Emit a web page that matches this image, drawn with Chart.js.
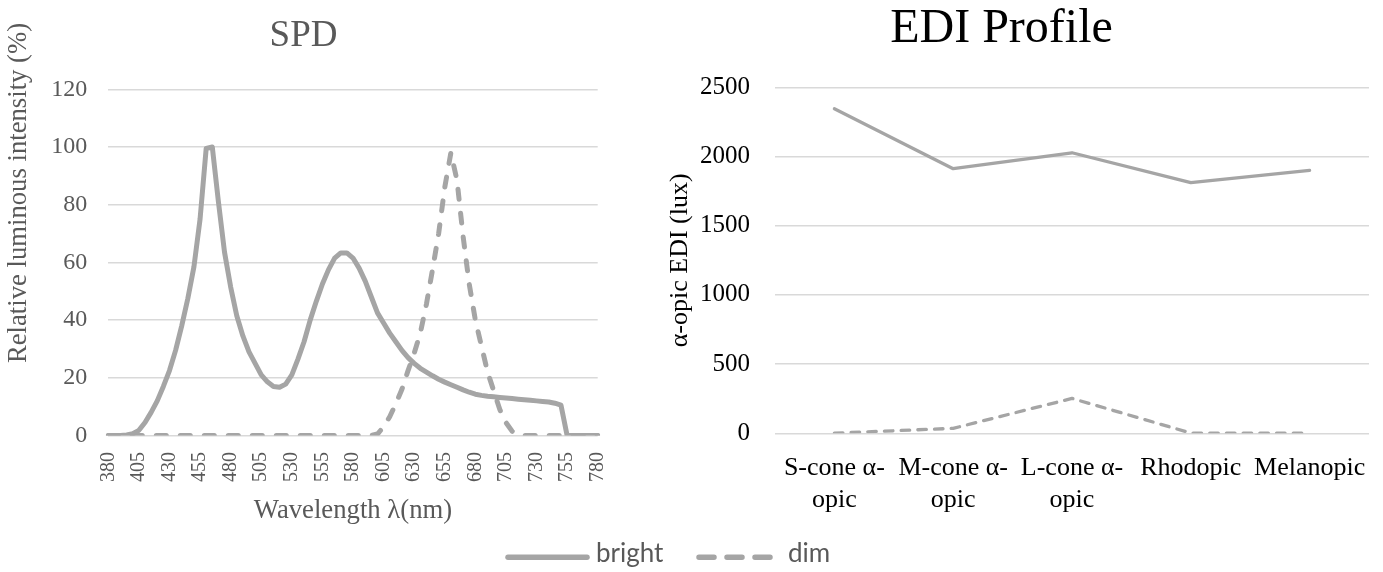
<!DOCTYPE html>
<html>
<head>
<meta charset="utf-8">
<script src="https://cdn.jsdelivr.net/npm/chart.js@4.4.0/dist/chart.umd.min.js"></script>
<style>
  html, body { margin: 0; padding: 0; background: #fff; width: 1383px; height: 572px; overflow: hidden; }
  #spd { position: absolute; left: 0; top: 0; }
  #edi { position: absolute; left: 630px; top: 0; }
  #legend { position: absolute; left: 0; top: 525px; }
</style>
</head>
<body>
<canvas id="spd" width="620" height="540" style="width:620px;height:540px"></canvas>
<canvas id="edi" width="753" height="540" style="width:753px;height:540px"></canvas>
<svg id="legend" width="1383" height="47" xmlns="http://www.w3.org/2000/svg"></svg>

<script>
// ---- Spectral power distribution (5 nm steps) ----
const wavelengths = [
  380, 385, 390, 395, 400, 405, 410, 415, 420, 425, 430, 435, 440, 445, 450, 455,
  460, 465, 470, 475, 480, 485, 490, 495, 500, 505, 510, 515, 520, 525, 530, 535,
  540, 545, 550, 555, 560, 565, 570, 575, 580, 585, 590, 595, 600, 605, 610, 615,
  620, 625, 630, 635, 640, 645, 650, 655, 660, 665, 670, 675, 680, 685, 690, 695,
  700, 705, 710, 715, 720, 725, 730, 735, 740, 745, 750, 755, 760, 765, 770, 775, 780
];
const spdBright = [
  0, 0, 0, 0.2, 0.6, 1.8, 4.5, 8, 12, 17, 22.5, 29.5, 38, 47.5, 58.5, 75,
  99.5, 100, 81, 63.5, 51.5, 41.5, 34.5, 29, 25, 21, 18.6, 17, 16.7, 17.8, 21, 26.5,
  32.5, 40, 46.5, 52.5, 57.5, 61.5, 63.3, 63.3, 61.5, 58, 53.5, 48, 42.5, 39, 35.5, 32.5,
  29.5, 27, 25, 23.3, 22, 20.7, 19.5, 18.5, 17.6, 16.7, 15.8, 15, 14.3, 13.9, 13.6, 13.4,
  13.2, 13, 12.8, 12.6, 12.4, 12.2, 12, 11.8, 11.6, 11.2, 10.5, 0, 0, 0, 0, 0, 0
];
const spdDim = [
  0, 0, 0, 0, 0, 0, 0, 0, 0, 0, 0, 0, 0, 0, 0, 0,
  0, 0, 0, 0, 0, 0, 0, 0, 0, 0, 0, 0, 0, 0, 0, 0,
  0, 0, 0, 0, 0, 0, 0, 0, 0, 0, 0, 0, 0.5, 3, 6.5, 11,
  16, 22.5, 28.5, 35.5, 45.5, 57.5, 70, 86, 98, 88.5, 69, 52.5, 40, 31, 22, 15.5,
  9, 4.5, 1.5, 0.2, 0, 0, 0, 0, 0, 0, 0, 0, 0, 0, 0, 0, 0
];
const spdXTickLabels = [380, 405, 430, 455, 480, 505, 530, 555, 580, 605, 630, 655, 680, 705, 730, 755, 780];
const spdYTicks = [0, 20, 40, 60, 80, 100, 120];

// ---- Equivalent daylight illuminance per photoreceptor ----
const ediCategories = [
  ['S-cone α-', 'opic'],
  ['M-cone α-', 'opic'],
  ['L-cone α-', 'opic'],
  'Rhodopic',
  'Melanopic'
];
const ediBright = [2345, 1912, 2027, 1811, 1900];
const ediDim = [1, 36, 252, 2, 1];
const ediYTicks = [0, 500, 1000, 1500, 2000, 2500];

const seriesNames = ['bright', 'dim'];

// ---- shared styling ----
const LINE_GREY = '#A5A5A5';
const GRID_GREY = '#D9D9D9';
const TEXT_GREY = '#595959';
const SERIF = "'Liberation Serif', 'Times New Roman', serif";
Chart.defaults.font.family = SERIF;

// Rotated y-axis caption placed at a fixed spot beside the axis
const sideCaption = {
  id: 'sideCaption',
  afterDraw(chart, args, opts) {
    if (!opts || !opts.text) return;
    const ctx = chart.ctx;
    ctx.save();
    ctx.font = opts.font;
    ctx.fillStyle = opts.color;
    ctx.translate(opts.x, opts.y);
    ctx.rotate(-Math.PI / 2);
    ctx.textAlign = 'center';
    ctx.textBaseline = 'alphabetic';
    ctx.fillText(opts.text, 0, 0);
    ctx.restore();
  }
};

// ---- SPD chart ----
new Chart(document.getElementById('spd'), {
  type: 'line',
  plugins: [sideCaption],
  data: {
    labels: wavelengths,
    datasets: [
      {
        label: seriesNames[0], data: spdBright,
        borderColor: LINE_GREY, borderWidth: 5, pointRadius: 0,
        borderJoinStyle: 'round', borderCapStyle: 'round', tension: 0, fill: false
      },
      {
        label: seriesNames[1], data: spdDim,
        borderColor: LINE_GREY, borderWidth: 5, pointRadius: 0,
        borderDash: [10, 14], borderJoinStyle: 'round', borderCapStyle: 'round', tension: 0, fill: false
      }
    ]
  },
  options: {
    responsive: false,
    animation: false,
    events: [],
    layout: { padding: { left: 9.3, right: 22.3, top: 0, bottom: 0 } },
    plugins: {
      legend: { display: false },
      tooltip: { enabled: false },
      title: {
        display: true, text: 'SPD', color: TEXT_GREY,
        font: { family: SERIF, size: 37, weight: 'normal', lineHeight: 1 },
        padding: { top: 17.3, bottom: 35 }
      },
      sideCaption: {
        text: 'Relative luminous intensity (%)',
        font: "26.7px 'Liberation Serif', serif",
        color: TEXT_GREY, x: 26, y: 193
      }
    },
    scales: {
      x: {
        offset: false,
        grid: { display: false },
        border: { display: false },
        ticks: {
          autoSkip: false, minRotation: 90, maxRotation: 90, padding: 8.5,
          color: TEXT_GREY, font: { family: SERIF, size: 20, weight: 'normal' },
          callback: (v, i) => spdXTickLabels.includes(wavelengths[i]) ? String(wavelengths[i]) : ''
        },
        title: {
          display: true, text: 'Wavelength λ(nm)', color: TEXT_GREY,
          font: { family: SERIF, size: 26.7, lineHeight: 1.2 }, padding: { top: 0, bottom: 12.7 }
        },
        afterFit: s => { s.height = 104.5; s.paddingLeft = 0; s.paddingRight = 0; }
      },
      y: {
        min: spdYTicks[0], max: spdYTicks[spdYTicks.length - 1],
        grid: { color: GRID_GREY, lineWidth: 1.5, drawTicks: false },
        border: { display: false },
        ticks: {
          padding: 21, color: TEXT_GREY, font: { family: SERIF, size: 24, weight: 'normal' },
          callback: v => String(v)
        },
        afterBuildTicks: s => { s.ticks = spdYTicks.map(v => ({ value: v })); },
        afterFit: s => { s.width = 99; }
      }
    }
  }
});

// ---- EDI chart ----
new Chart(document.getElementById('edi'), {
  type: 'line',
  data: {
    labels: ediCategories,
    datasets: [
      {
        label: seriesNames[0], data: ediBright,
        borderColor: LINE_GREY, borderWidth: 3.3, pointRadius: 0,
        borderJoinStyle: 'round', borderCapStyle: 'round', tension: 0, fill: false
      },
      {
        label: seriesNames[1], data: ediDim,
        borderColor: LINE_GREY, borderWidth: 3.3, pointRadius: 0,
        borderDash: [8.5, 8.2], borderJoinStyle: 'round', borderCapStyle: 'round', tension: 0, fill: false
      }
    ]
  },
  options: {
    responsive: false,
    animation: false,
    events: [],
    layout: { padding: { left: 4, right: 14, top: 0, bottom: 0 } },
    plugins: {
      legend: { display: false },
      tooltip: { enabled: false },
      title: {
        display: true, text: 'EDI Profile', color: '#000',
        font: { family: SERIF, size: 48, weight: 'normal', lineHeight: 1 },
        padding: { top: 5, bottom: 34.3 }
      }
    },
    scales: {
      x: {
        offset: true,
        grid: { display: false },
        border: { display: false },
        ticks: {
          autoSkip: false, maxRotation: 0, minRotation: 0, padding: 10.6,
          color: '#000', font: { family: SERIF, size: 26, weight: 'normal', lineHeight: 1.25 }
        },
        afterFit: s => { s.height = 106.7; }
      },
      y: {
        min: ediYTicks[0], max: ediYTicks[ediYTicks.length - 1],
        grid: { color: GRID_GREY, lineWidth: 1.5, drawTicks: false },
        border: { display: false },
        ticks: {
          padding: 25, color: '#000', font: { family: SERIF, size: 25, weight: 'normal' },
          callback: v => String(v)
        },
        afterBuildTicks: s => { s.ticks = ediYTicks.map(v => ({ value: v })); },
        title: {
          display: true, text: 'α-opic EDI (lux)', color: '#000',
          font: { family: SERIF, size: 26, lineHeight: 1.2 }, padding: { top: 30.4, bottom: 0 }
        },
        afterFit: s => { s.width = 141; }
      }
    }
  }
});

// ---- shared legend ----
(function buildLegend() {
  const svg = document.getElementById('legend');
  const NS = 'http://www.w3.org/2000/svg';
  const entries = [
    { name: seriesNames[0], x1: 508, x2: 587, textX: 596, dash: null },
    { name: seriesNames[1], x1: 699, x2: 770, textX: 788, dash: '15 13' }
  ];
  entries.forEach(e => {
    const line = document.createElementNS(NS, 'line');
    line.setAttribute('x1', e.x1); line.setAttribute('x2', e.x2);
    line.setAttribute('y1', 32.3); line.setAttribute('y2', 32.3);
    line.setAttribute('stroke', LINE_GREY);
    line.setAttribute('stroke-width', 5.5);
    line.setAttribute('stroke-linecap', 'round');
    if (e.dash) line.setAttribute('stroke-dasharray', e.dash);
    svg.appendChild(line);
    const t = document.createElementNS(NS, 'text');
    t.setAttribute('x', e.textX); t.setAttribute('y', 37.3);
    t.setAttribute('fill', TEXT_GREY);
    t.setAttribute('font-family', 'Lato, sans-serif');
    t.setAttribute('font-size', 26);
    t.textContent = e.name;
    svg.appendChild(t);
  });
})();
</script>
</body>
</html>
